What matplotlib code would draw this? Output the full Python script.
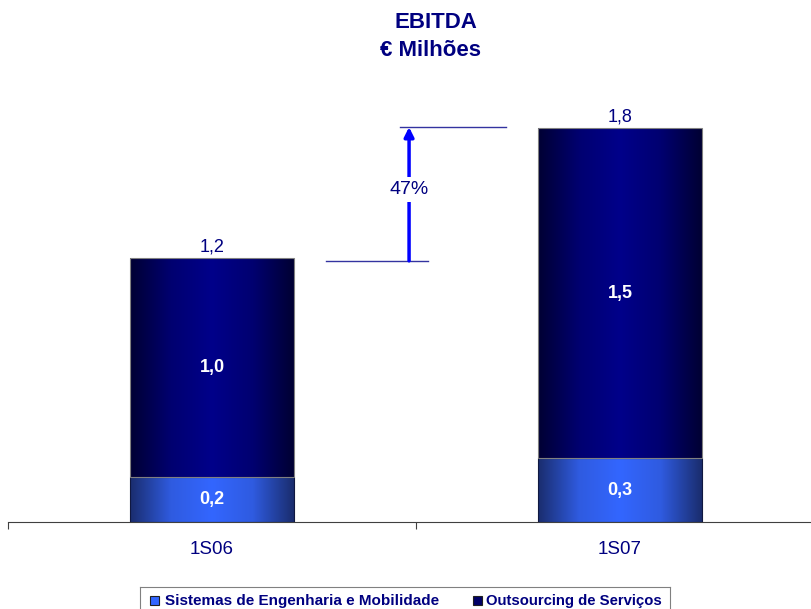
import numpy as np
import matplotlib
matplotlib.use("Agg")
import matplotlib.pyplot as plt
from matplotlib.patches import Rectangle
from matplotlib.colors import LinearSegmentedColormap

plt.rcParams['font.family'] = ['Liberation Sans', 'DejaVu Sans']

categories = ['1S06', '1S07']
sistemas = [0.205, 0.29]
outsourcing = [0.995, 1.50]
totals_lbl = ['1,2', '1,8']
sistemas_lbl = ['0,2', '0,3']
outsourcing_lbl = ['1,0', '1,5']
growth_lbl = '47%'
series_names = ['Sistemas de Engenharia e Mobilidade', 'Outsourcing de Serviços']

navy = '#000080'
cm_top = LinearSegmentedColormap.from_list('top', ['#000033', '#000070', '#00008a', '#000070', '#000033'])
cm_bot = LinearSegmentedColormap.from_list('bot', ['#1a2d6e', '#2f5be0', '#3366ff', '#2f5be0', '#1a2d6e'])

fig = plt.figure(figsize=(8.11, 6.09), dpi=100)
ax = fig.add_axes([8 / 811, 87 / 609, 816 / 811, 422 / 609])
ax.set_zorder(1)

grad = np.linspace(0, 1, 256).reshape(1, -1)
w = 0.4
x = np.arange(len(categories)) + 0.5

for i in range(len(categories)):
    x0 = x[i] - w / 2
    b = sistemas[i]
    t = b + outsourcing[i]
    ax.imshow(grad, cmap=cm_bot, extent=[x0, x0 + w, 0, b], aspect='auto', zorder=2)
    ax.imshow(grad, cmap=cm_top, extent=[x0, x0 + w, b, t], aspect='auto', zorder=2)
    ax.add_patch(Rectangle((x0, 0), w, b, fill=False, ec='#101840', lw=0.8, zorder=3))
    ax.add_patch(Rectangle((x0, b), w, outsourcing[i], fill=False, ec='#808080', lw=0.8, zorder=3))
    ax.text(x[i], b / 2, sistemas_lbl[i], color='white', fontsize=13, fontweight='bold',
            ha='center', va='center', zorder=4)
    ax.text(x[i], b + outsourcing[i] / 2, outsourcing_lbl[i], color='white', fontsize=13,
            fontweight='bold', ha='center', va='center', zorder=4)
    ax.text(x[i], t + 0.012, totals_lbl[i], color=navy, fontsize=13, ha='center', va='bottom', zorder=4)

ax.set_xlim(0, 2)
ax.set_ylim(0, 422 / 220)

# growth arrow
t0 = sistemas[0] + outsourcing[0]
t1 = sistemas[1] + outsourcing[1]
ax.plot([0.78, 1.03], [t0 - 0.013, t0 - 0.013], color='#3333a0', lw=1, zorder=3)
ax.plot([0.96, 1.22], [t1 + 0.005, t1 + 0.005], color='#3333a0', lw=1, zorder=3)
ax.annotate('', xy=(0.983, t1 + 0.005), xytext=(0.983, t0 - 0.013),
            arrowprops=dict(arrowstyle='-|>', color='#0000ff', lw=2.5, mutation_scale=14,
                            shrinkA=0, shrinkB=0), zorder=3)
ax.text(0.983, (t0 + t1) / 2 + 0.015, growth_lbl, color=navy, fontsize=14, ha='center', va='center',
        bbox=dict(fc='white', ec='none', pad=3), zorder=4)

for s in ['top', 'right', 'left']:
    ax.spines[s].set_visible(False)
ax.spines['bottom'].set_color('#404040')
ax.set_yticks([])
ax.set_xticks([0, 1, 2])
ax.set_xticklabels([])
ax.tick_params(axis='x', direction='out', length=5, color='#404040')
ax.set_xticks(x, minor=True)
ax.set_xticklabels(categories, minor=True, color=navy, fontsize=13.5)
ax.tick_params(axis='x', which='minor', length=0, pad=14)

fig.text(436 / 811, 1 - 22 / 609, 'EBITDA', color=navy, fontsize=16, fontweight='bold', ha='center', va='center')
fig.text(430 / 811, 1 - 50 / 609, '€ Milhões', color=navy, fontsize=16, fontweight='bold', ha='center', va='center')

# legend
lax = fig.add_axes([140 / 811, 0, 530 / 811, 22 / 609])
lax.set_xlim(0, 530)
lax.set_ylim(0, 22)
lax.set_xticks([])
lax.set_yticks([])
for s in lax.spines.values():
    s.set_color('#808080')
lax.spines['bottom'].set_visible(False)
lax.add_patch(Rectangle((10, 4), 9, 9, fc='#3366ff', ec='#202020', lw=0.8))
lax.text(25, 8.5, series_names[0], color=navy, fontsize=11, fontweight='bold', va='center')
lax.add_patch(Rectangle((333, 4), 9, 9, fc='#000066', ec='#202020', lw=0.8))
lax.text(346, 8.5, series_names[1], color=navy, fontsize=10.7, fontweight='bold', va='center')

fig.savefig('out.png', dpi=100)
